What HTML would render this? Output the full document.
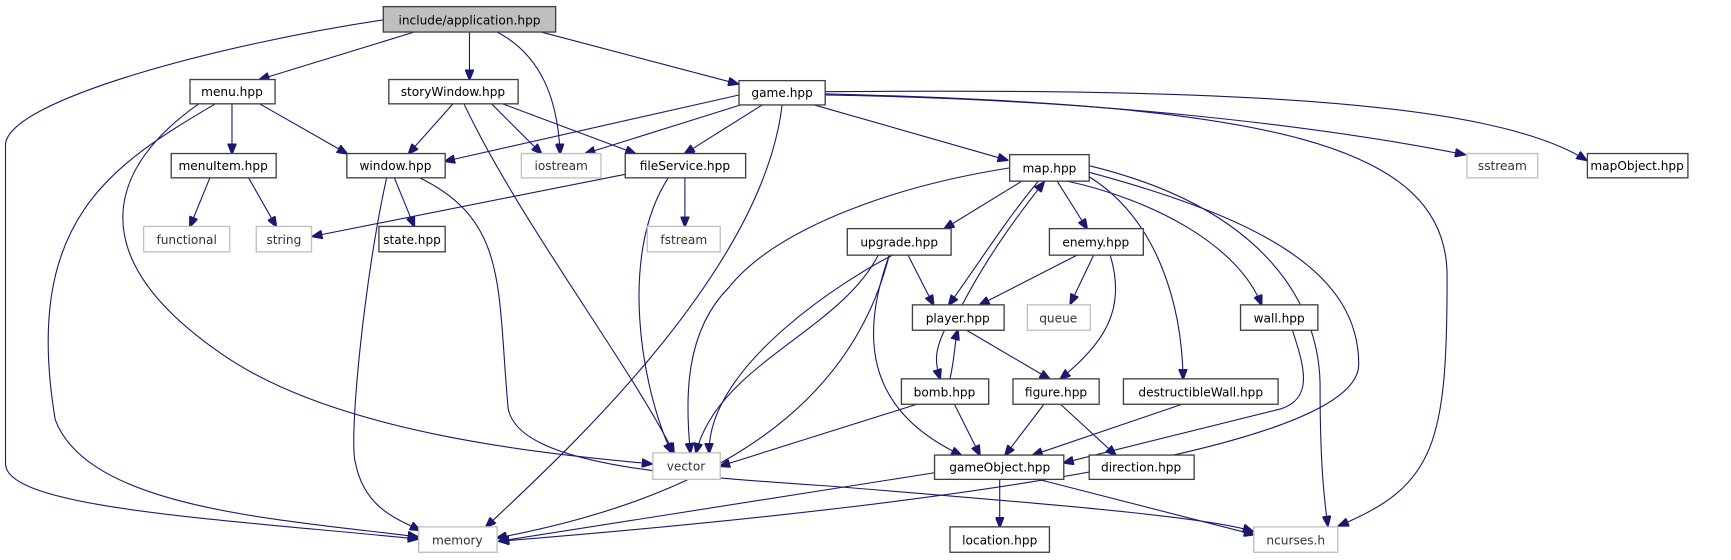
<!DOCTYPE html>
<html><head><meta charset="utf-8"><style>
html,body{margin:0;padding:0;background:#fff;width:1731px;height:560px;overflow:hidden}
svg{display:block}
text{font-family:"DejaVu Sans","Liberation Sans",sans-serif;font-size:11px;fill:#000;text-anchor:middle}
.n rect{fill:#fff;stroke:#404040;stroke-width:1.2}
.g rect{fill:#fff;stroke:#bfbfbf;stroke-width:1.2}
.g text{fill:#333}
path{fill:none;stroke:#191970;stroke-width:1}
</style></head><body>
<svg width="1731" height="560" viewBox="0 0 1567 507" preserveAspectRatio="none">
<defs><marker id="a" markerWidth="10" markerHeight="8" refX="9" refY="4" orient="auto" markerUnits="userSpaceOnUse"><path d="M0,0 L10,4 L0,8 z" style="fill:#191970;stroke:#191970"/></marker></defs>
<g marker-end="url(#a)">
<!-- app -->
<path d="M347,18 C200,40 10,90 5,130 L5,420 C5,460 200,470 378,488"/>
<path d="M375,29 L235,72"/>
<path d="M425,29 L425,72"/>
<path d="M450,29 C490,50 505,90 507,139"/>
<path d="M490,29 L668,76"/>
<!-- menu -->
<path d="M210,94 L210,139"/>
<path d="M235,94 L314,139"/>
<path d="M195,94 C100,150 20,200 50,380 C80,460 250,470 378,486"/>
<path d="M180,94 C100,150 70,230 200,320 C300,390 480,410 590,420"/>
<!-- storyWindow -->
<path d="M410,94 L370,139"/>
<path d="M445,94 L490,139"/>
<path d="M455,94 L575,139"/>
<path d="M420,94 C470,200 570,330 610,410"/>
<!-- game -->
<path d="M669,86 L403,146"/>
<path d="M680,92 L530,139"/>
<path d="M690,95 L620,139"/>
<path d="M737,95 L912,145"/>
<path d="M708,95 C690,250 500,420 440,477"/>
<path d="M747,85 C1150,95 1310,130 1310,250 C1310,400 1300,440 1212,476"/>
<path d="M747,86 C1000,90 1200,115 1326,140"/>
<path d="M747,83 C1100,80 1350,90 1436,145"/>
<!-- menuItem -->
<path d="M190,161 L172,205"/>
<path d="M225,161 L250,205"/>
<!-- window -->
<path d="M357,161 L375,205"/>
<path d="M350,161 C330,250 315,400 322,420 C330,460 360,470 380,480"/>
<path d="M380,161 C460,200 450,260 460,370 C470,420 600,430 750,440 C1000,460 1100,470 1134,481"/>
<!-- fileService -->
<path d="M570,157 L283,214"/>
<path d="M620,161 L620,205"/>
<path d="M605,161 C560,230 580,350 608,410"/>
<!-- map -->
<path d="M925,164 L855,207"/>
<path d="M940,164 C910,200 885,240 859,276"/>
<path d="M871,276 C895,230 925,190 945,165"/>
<path d="M957,164 L984,207"/>
<path d="M966,164 C1040,180 1120,220 1142,276"/>
<path d="M986,160 C1050,200 1070,280 1071,343"/>
<path d="M914,152 C800,170 700,210 660,260 C620,300 620,360 625,410"/>
<path d="M986,156 C1150,200 1230,250 1230,330 C1230,420 700,470 452,490"/>
<path d="M986,150 C1150,190 1195,280 1195,350 C1195,430 1200,460 1202,476"/>
<!-- upgrade -->
<path d="M822,231 L845,276"/>
<path d="M808,231 C770,250 640,330 642,410"/>
<path d="M795,231 C760,300 650,330 630,410"/>
<path d="M805,231 C780,330 700,440 450,487"/>
<path d="M805,231 C780,300 780,370 870,412"/>
<!-- enemy -->
<path d="M975,231 L887,276"/>
<path d="M990,231 L969,275"/>
<path d="M1005,231 C1020,280 1000,310 960,343"/>
<!-- player -->
<path d="M855,299 C845,320 847,330 851,343"/>
<path d="M860,343 C865,320 864,310 867,299"/>
<path d="M875,299 L950,343"/>
<!-- bomb -->
<path d="M830,366 L652,422"/>
<path d="M864,366 L887,412"/>
<!-- figure -->
<path d="M945,366 L910,412"/>
<path d="M960,366 L1010,412"/>
<path d="M1070,366 L935,412"/>
<path d="M1170,299 C1180,330 1190,360 1160,370 L963,419"/>
<!-- gameObject -->
<path d="M846,428 L452,490"/>
<path d="M905,434 L905,477"/>
<path d="M940,434 L1135,484"/>
</g>
<g class="n"><rect x="347" y="6" width="156" height="23" style="fill:#bfbfbf"/><text x="425" y="22">include/application.hpp</text></g>
<g class="n"><rect x="172" y="72" width="77" height="22"/><text x="210" y="87">menu.hpp</text></g>
<g class="n"><rect x="352" y="72" width="117" height="22"/><text x="410" y="87">storyWindow.hpp</text></g>
<g class="n"><rect x="669" y="73" width="78" height="22"/><text x="708" y="88">game.hpp</text></g>
<g class="n"><rect x="155" y="139" width="95" height="22"/><text x="202" y="154">menuItem.hpp</text></g>
<g class="n"><rect x="314" y="139" width="89" height="22"/><text x="358" y="154">window.hpp</text></g>
<g class="g"><rect x="472" y="139" width="72" height="22"/><text x="508" y="154">iostream</text></g>
<g class="n"><rect x="566" y="139" width="109" height="22"/><text x="620" y="154">fileService.hpp</text></g>
<g class="n"><rect x="914" y="140" width="72" height="24"/><text x="950" y="156">map.hpp</text></g>
<g class="g"><rect x="1328" y="139" width="64" height="22"/><text x="1360" y="154">sstream</text></g>
<g class="n"><rect x="1437" y="139" width="91" height="22"/><text x="1482" y="154">mapObject.hpp</text></g>
<g class="g"><rect x="130" y="205" width="78" height="23"/><text x="169" y="221">functional</text></g>
<g class="g"><rect x="232" y="205" width="50" height="23"/><text x="257" y="221">string</text></g>
<g class="n"><rect x="343" y="205" width="60" height="23"/><text x="373" y="221">state.hpp</text></g>
<g class="g"><rect x="586" y="205" width="66" height="23"/><text x="619" y="221">fstream</text></g>
<g class="n"><rect x="767" y="207" width="94" height="24"/><text x="814" y="223">upgrade.hpp</text></g>
<g class="n"><rect x="950" y="207" width="85" height="24"/><text x="992" y="223">enemy.hpp</text></g>
<g class="n"><rect x="826" y="276" width="83" height="23"/><text x="867" y="292">player.hpp</text></g>
<g class="g"><rect x="930" y="276" width="57" height="23"/><text x="958" y="292">queue</text></g>
<g class="n"><rect x="1123" y="276" width="70" height="23"/><text x="1158" y="292">wall.hpp</text></g>
<g class="n"><rect x="816" y="343" width="79" height="23"/><text x="855" y="359">bomb.hpp</text></g>
<g class="n"><rect x="917" y="343" width="78" height="23"/><text x="956" y="359">figure.hpp</text></g>
<g class="n"><rect x="1017" y="343" width="140" height="23"/><text x="1087" y="359">destructibleWall.hpp</text></g>
<g class="g"><rect x="591" y="410" width="61" height="24"/><text x="621" y="426">vector</text></g>
<g class="n"><rect x="846" y="412" width="117" height="22"/><text x="905" y="427">gameObject.hpp</text></g>
<g class="n"><rect x="986" y="412" width="95" height="22"/><text x="1033" y="427">direction.hpp</text></g>
<g class="g"><rect x="379" y="477" width="71" height="23"/><text x="414" y="493">memory</text></g>
<g class="n"><rect x="860" y="477" width="90" height="23"/><text x="905" y="493">location.hpp</text></g>
<g class="g"><rect x="1135" y="477" width="76" height="23"/><text x="1173" y="493">ncurses.h</text></g>
</svg>
</body></html>
